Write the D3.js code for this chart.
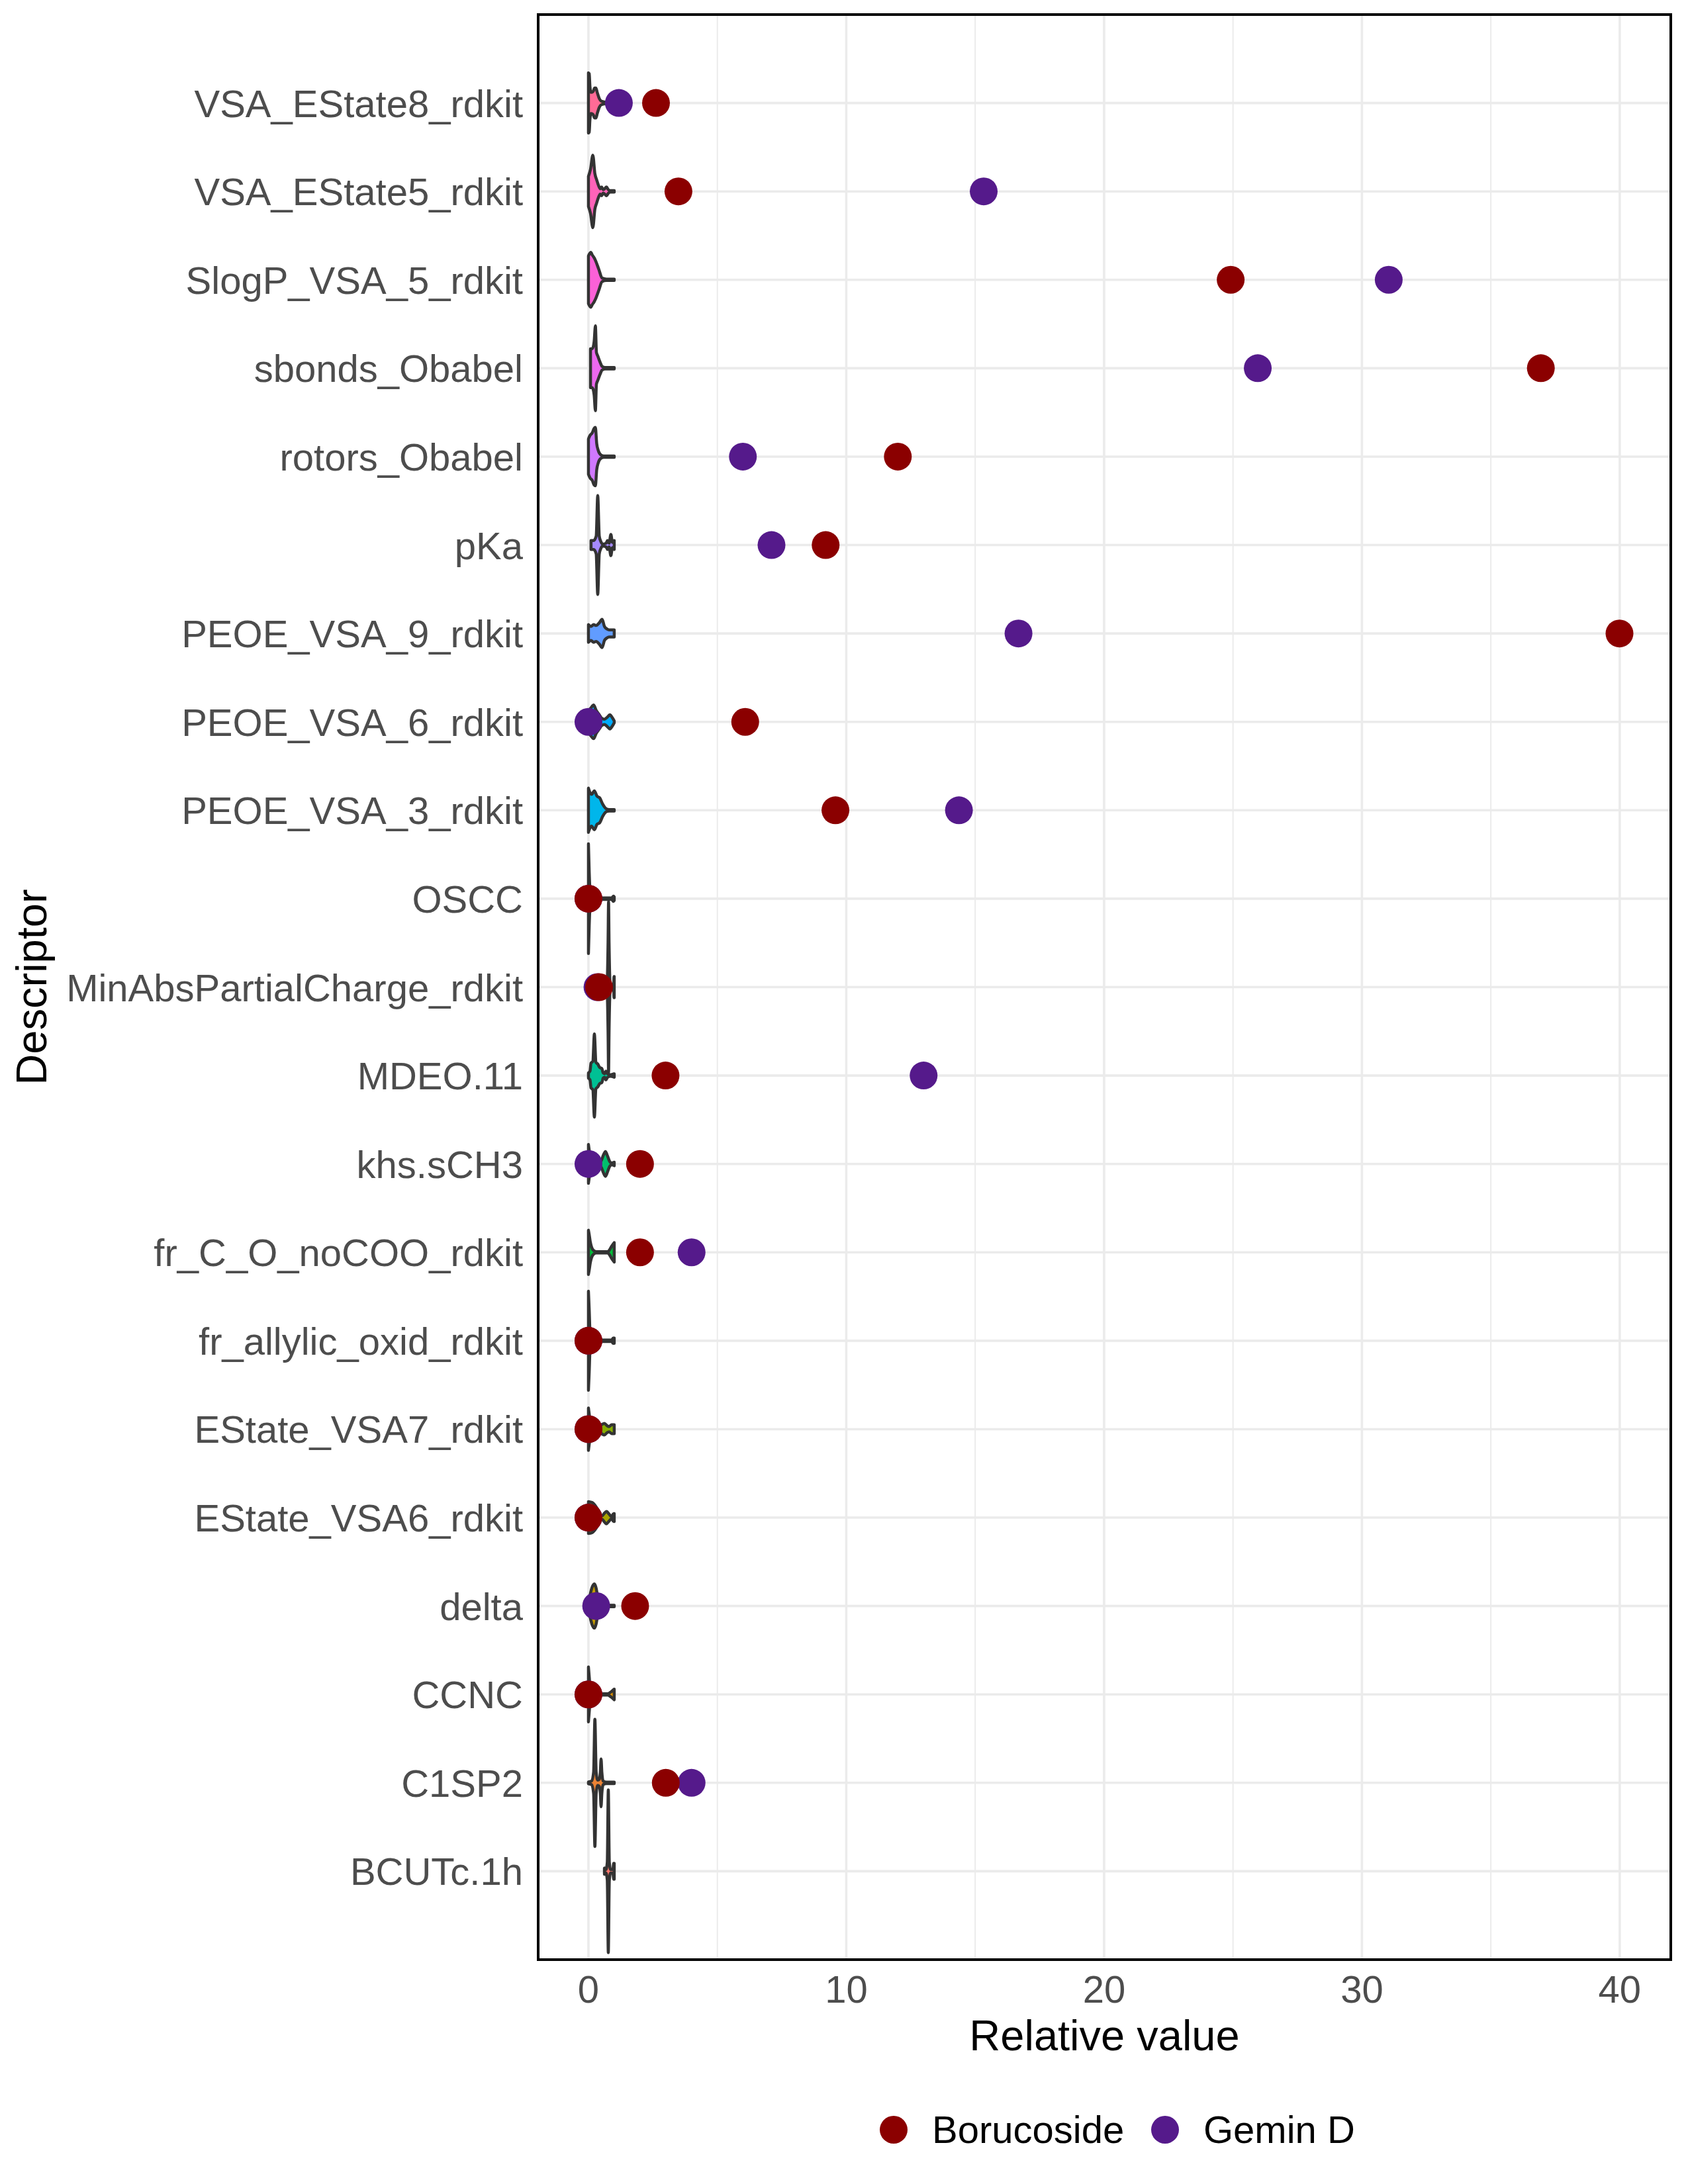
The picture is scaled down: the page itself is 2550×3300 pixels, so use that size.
<!DOCTYPE html>
<html><head><meta charset="utf-8">
<script src="https://cdn.jsdelivr.net/npm/d3@7"></script>
<style>body{margin:0;background:#fff} svg{display:block}</style>
</head><body>
<svg id="chart" width="2550" height="3300"></svg>
<script>
// ---------------- data ----------------
const descriptors = [
  "VSA_EState8_rdkit","VSA_EState5_rdkit","SlogP_VSA_5_rdkit","sbonds_Obabel","rotors_Obabel",
  "pKa","PEOE_VSA_9_rdkit","PEOE_VSA_6_rdkit","PEOE_VSA_3_rdkit","OSCC",
  "MinAbsPartialCharge_rdkit","MDEO.11","khs.sCH3","fr_C_O_noCOO_rdkit","fr_allylic_oxid_rdkit",
  "EState_VSA7_rdkit","EState_VSA6_rdkit","delta","CCNC","C1SP2","BCUTc.1h"
];
const borucoside = [2.62,3.49,24.91,36.94,12.0,9.2,39.99,6.08,9.58,0.0,0.41,2.99,2.0,2.0,0.0,0.0,0.0,1.81,0.0,3.0,null];
const geminD     = [1.18,15.33,31.04,25.96,5.99,7.1,16.68,0.0,14.37,0.0,0.35,13.0,0.0,4.0,0.0,0.0,0.0,0.30,0.0,4.0,null];
const seriesNames = ["Borucoside","Gemin D"];
const seriesColors = ["#8B0000","#551A8B"];
const xMajorTicks = [0,10,20,30,40];
const xMinorTicks = [5,15,25,35];
// violin outlines: [relative value, half-width in row units]
const violinShapes = [
  [[0,0.34],[0.03,0.33],[0.06,0.18],[0.1,0.12],[0.18,0.13],[0.24,0.17],[0.29,0.17],[0.34,0.12],[0.42,0.05],[0.5,0.02],[0.7,0.008],[1.0,0.008]],
  [[0,0.17],[0.08,0.25],[0.17,0.41],[0.25,0.2],[0.32,0.13],[0.4,0.06],[0.46,0.03],[0.51,0.05],[0.57,0.02],[0.63,0.03],[0.7,0.05],[0.77,0.02],[0.85,0.008],[1.0,0.008]],
  [[0,0.27],[0.09,0.31],[0.15,0.28],[0.22,0.25],[0.27,0.22],[0.4,0.12],[0.53,0.02],[0.7,0.008],[1.0,0.008]],
  [[0.08,0.22],[0.15,0.22],[0.22,0.3],[0.27,0.48],[0.31,0.18],[0.36,0.14],[0.45,0.07],[0.53,0.02],[0.65,0.008],[1.0,0.008]],
  [[0,0.2],[0.06,0.24],[0.15,0.27],[0.22,0.32],[0.27,0.33],[0.32,0.15],[0.38,0.07],[0.48,0.02],[0.6,0.008],[1,0.008]],
  [[0.1,0.05],[0.2,0.05],[0.3,0.1],[0.36,0.56],[0.42,0.1],[0.48,0.04],[0.55,0.01],[0.68,0.02],[0.74,0.05],[0.8,0.02],[0.87,0.12],[0.93,0.03],[1.0,0.05]],
  [[0,0.1],[0.1,0.08],[0.2,0.1],[0.3,0.09],[0.42,0.12],[0.53,0.16],[0.62,0.08],[0.72,0.05],[0.8,0.04],[1.0,0.04]],
  [[0,0.12],[0.1,0.16],[0.2,0.19],[0.3,0.13],[0.42,0.08],[0.52,0.04],[0.62,0.03],[0.72,0.05],[0.83,0.08],[0.92,0.05],[1.0,0.01]],
  [[0,0.25],[0.06,0.2],[0.12,0.18],[0.23,0.22],[0.33,0.16],[0.44,0.14],[0.55,0.07],[0.7,0.015],[0.8,0.008],[1.0,0.008]],
  [[0,0.62],[0.03,0.3],[0.08,0.03],[0.15,0.008],[0.9,0.008],[0.97,0.03],[1.0,0.02]],
  [[0.35,0.008],[0.6,0.008],[0.72,0.05],[0.76,0.5],[0.78,0.97],[0.8,0.5],[0.84,0.05],[0.9,0.008],[0.98,0.008],[0.99,0.12],[1.0,0.12]],
  [[0,0.03],[0.06,0.05],[0.1,0.14],[0.17,0.16],[0.23,0.47],[0.29,0.15],[0.36,0.13],[0.44,0.09],[0.52,0.08],[0.57,0.03],[0.63,0.02],[0.68,0.05],[0.74,0.02],[0.85,0.008],[1.0,0.02]],
  [[0,0.22],[0.05,0.12],[0.15,0.05],[0.3,0.02],[0.44,0.02],[0.5,0.04],[0.58,0.1],[0.66,0.14],[0.74,0.09],[0.82,0.03],[0.9,0.01],[1.0,0.02]],
  [[0,0.25],[0.03,0.2],[0.07,0.12],[0.12,0.06],[0.2,0.02],[0.3,0.008],[0.75,0.008],[0.8,0.02],[0.9,0.07],[1.0,0.11]],
  [[0,0.56],[0.03,0.35],[0.06,0.1],[0.1,0.02],[0.2,0.008],[0.9,0.008],[0.96,0.03],[1.0,0.03]],
  [[0,0.24],[0.04,0.15],[0.1,0.06],[0.2,0.03],[0.35,0.03],[0.5,0.05],[0.62,0.065],[0.72,0.04],[0.8,0.03],[0.9,0.05],[1.0,0.05]],
  [[0,0.18],[0.15,0.17],[0.3,0.12],[0.45,0.04],[0.53,0.02],[0.62,0.05],[0.7,0.07],[0.8,0.04],[0.9,0.01],[0.96,0.04],[1.0,0.045]],
  [[0,0.04],[0.06,0.12],[0.14,0.21],[0.23,0.25],[0.3,0.2],[0.36,0.1],[0.42,0.03],[0.5,0.008],[1.0,0.008]],
  [[0,0.31],[0.03,0.2],[0.07,0.06],[0.12,0.02],[0.3,0.008],[0.75,0.008],[0.88,0.03],[1.0,0.06]],
  [[0,0.01],[0.12,0.02],[0.2,0.12],[0.25,0.72],[0.3,0.12],[0.36,0.03],[0.42,0.04],[0.46,0.12],[0.49,0.27],[0.52,0.12],[0.57,0.02],[0.7,0.008],[1.0,0.008]],
  [[0.62,0.035],[0.68,0.02],[0.73,0.1],[0.77,0.92],[0.81,0.1],[0.86,0.02],[0.95,0.02],[0.98,0.09],[1.0,0.09]]
];

// ---------------- helpers ----------------
// ggplot2-style hue palette (polar LUV -> sRGB)
function hclLuv(h, c, l) {
  const XN = 95.047, YN = 100, ZN = 108.883;
  const rad = h * Math.PI / 180;
  const U = c * Math.cos(rad), V = c * Math.sin(rad);
  const Y = YN * (l > 7.999592 ? Math.pow((l + 16) / 116, 3) : l / 903.3);
  const t = XN + YN + ZN;
  const x = XN / t, y = YN / t;
  const uN = 2 * x / (6 * y - x + 1.5);
  const vN = 4.5 * y / (6 * y - x + 1.5);
  const u = U / (13 * l) + uN, v = V / (13 * l) + vN;
  const X = 9.0 * Y * u / (4 * v);
  const Z = -X / 3 - 5 * Y + 3 * Y / v;
  const g = w => { w = w / YN; const r = w > 0.00304 ? 1.055 * Math.pow(w, 1 / 2.4) - 0.055 : 12.92 * w; return Math.round(255 * Math.max(0, Math.min(1, r))); };
  return d3.rgb(g(3.240479 * X - 1.537150 * Y - 0.498535 * Z),
                g(-0.969256 * X + 1.875992 * Y + 0.041556 * Z),
                g(0.055648 * X - 0.204043 * Y + 1.057311 * Z)).formatHex();
}
const nLev = descriptors.length;
const fillFor = i => { const level = nLev - i; return hclLuv(15 + (level - 1) * 360 / nLev, 100, 65); };

// ---------------- layout ----------------
const panel = {left: 813, right: 2524, top: 22, bottom: 2961};
const svg = d3.select("#chart");
const FONT = "'Liberation Sans', Arial, Helvetica, sans-serif";

const x = d3.scaleLinear().domain([-1.95, 41.98]).range([panel.left, panel.right]);
const y = d3.scalePoint().domain(descriptors).range([panel.top, panel.bottom]).padding(1);
const step = y.step();

svg.append("rect").attr("width", 2550).attr("height", 3300).attr("fill", "#fff");

// grid
const grid = svg.append("g");
grid.selectAll(".minor").data(xMinorTicks).join("line")
  .attr("x1", d => x(d)).attr("x2", d => x(d)).attr("y1", panel.top).attr("y2", panel.bottom)
  .attr("stroke", "#EBEBEB").attr("stroke-width", 2);
grid.selectAll(".major").data(xMajorTicks).join("line")
  .attr("x1", d => x(d)).attr("x2", d => x(d)).attr("y1", panel.top).attr("y2", panel.bottom)
  .attr("stroke", "#EBEBEB").attr("stroke-width", 3.6);
grid.selectAll(".hmajor").data(descriptors).join("line")
  .attr("x1", panel.left).attr("x2", panel.right).attr("y1", d => y(d)).attr("y2", d => y(d))
  .attr("stroke", "#EBEBEB").attr("stroke-width", 3.6);

// violins
const clip = svg.append("clipPath").attr("id", "pclip").append("rect")
  .attr("x", panel.left).attr("y", panel.top).attr("width", panel.right - panel.left).attr("height", panel.bottom - panel.top);
const vg = svg.append("g").attr("clip-path", "url(#pclip)");
descriptors.forEach((name, i) => {
  const cy = y(name);
  const area = d3.area()
    .x(d => x(d[0]))
    .y0(d => cy - d[1] * step)
    .y1(d => cy + d[1] * step)
    .curve(d3.curveMonotoneX);
  vg.append("path").attr("d", area(violinShapes[i]))
    .attr("fill", fillFor(i)).attr("stroke", "#333333").attr("stroke-width", 4.5)
    .attr("stroke-linejoin", "round").attr("stroke-linecap", "round");
});

// points (Gemin D first, Borucoside on top)
const pts = svg.append("g").attr("clip-path", "url(#pclip)");
[[geminD, 1], [borucoside, 0]].forEach(([vals, s]) => {
  pts.selectAll(null).data(descriptors.map((d, i) => ({d, v: vals[i]})).filter(p => p.v !== null))
    .join("circle")
    .attr("cx", p => x(p.v)).attr("cy", p => y(p.d)).attr("r", 21)
    .attr("fill", seriesColors[s]);
});

// panel border
svg.append("rect").attr("x", panel.left).attr("y", panel.top)
  .attr("width", panel.right - panel.left).attr("height", panel.bottom - panel.top)
  .attr("fill", "none").attr("stroke", "#000").attr("stroke-width", 4);

// y axis labels
svg.append("g").selectAll("text").data(descriptors).join("text")
  .attr("x", 790).attr("y", d => y(d) + 21)
  .attr("text-anchor", "end").attr("font-family", FONT).attr("font-size", 58).attr("fill", "#4D4D4D")
  .text(d => d);

// x axis labels
svg.append("g").selectAll("text").data(xMajorTicks).join("text")
  .attr("x", d => x(d)).attr("y", 3026)
  .attr("text-anchor", "middle").attr("font-family", FONT).attr("font-size", 58).attr("fill", "#4D4D4D")
  .text(d => d);

// axis titles
svg.append("text").attr("x", (panel.left + panel.right) / 2).attr("y", 3098)
  .attr("text-anchor", "middle").attr("font-family", FONT).attr("font-size", 65).attr("fill", "#000")
  .text("Relative value");
svg.append("text").attr("transform", `translate(70,${(panel.top + panel.bottom) / 2}) rotate(-90)`)
  .attr("text-anchor", "middle").attr("font-family", FONT).attr("font-size", 65).attr("fill", "#000")
  .text("Descriptor");

// legend
const legendX = [1350, 1760];
const lg = svg.append("g");
seriesNames.forEach((n, i) => {
  lg.append("circle").attr("cx", legendX[i]).attr("cy", 3218).attr("r", 21).attr("fill", seriesColors[i]);
  lg.append("text").attr("x", legendX[i] + 58).attr("y", 3238)
    .attr("font-family", FONT).attr("font-size", 58).attr("fill", "#000").text(n);
});
</script>
</body></html>
